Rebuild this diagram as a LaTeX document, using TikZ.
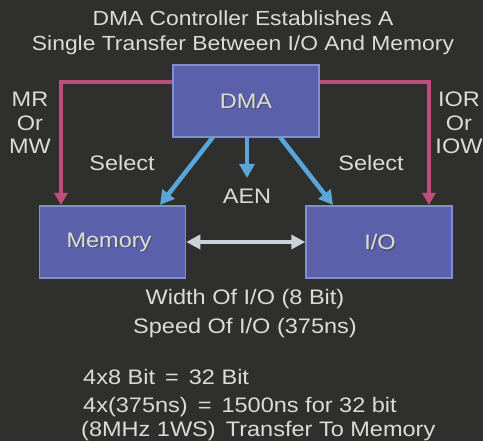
\documentclass[tikz,border=0pt]{standalone}
\usepackage{fontspec}
\setmainfont{Liberation Sans}[FakeStretch=1.12]
\usetikzlibrary{arrows.meta}
\definecolor{bg}{HTML}{2F2F2D}
\definecolor{boxfill}{HTML}{5A60AA}
\definecolor{boxedge}{HTML}{8090CC}
\definecolor{txt}{HTML}{DCDCD6}
\definecolor{mag}{HTML}{BE4E7C}
\definecolor{sky}{HTML}{58A6DA}
\definecolor{pale}{HTML}{CCD2DA}
\tikzset{
  blk/.style={draw=boxedge, line width=1.5pt, fill=boxfill, minimum width=146pt, minimum height=72pt, inner sep=0pt},
  lbl/.style={text=txt, inner sep=0pt, font=\fontsize{21}{23}\selectfont},
  ttl/.style={text=txt, inner sep=0pt, font=\fontsize{20.4}{25}\selectfont, align=center},
  magline/.style={draw=mag, line width=4pt, -{Triangle[length=12pt,width=13pt]}},
  skyline/.style={draw=sky, line width=4.5pt, -{Triangle[length=14pt,width=15pt]}},
  paleline/.style={draw=pale, line width=4pt, {Triangle[length=14pt,width=14pt]}-{Triangle[length=14pt,width=14pt]}},
}
\begin{document}
\begin{tikzpicture}[x=1pt,y=-1pt]
\fill[bg] (0,0) rectangle (483,441);
\useasboundingbox (0,0) rectangle (483,441);
% title
\node[ttl] (title) at (243,33) {DMA Controller Establishes A\\Single Transfer Between I/O And Memory};
% boxes
\node[blk] (dma) at (246,101) {};
\node[blk] (mem) at (112.5,242) {};
\node[blk] (io) at (379,242) {};
\node[lbl, text=black!70, opacity=0.6] at (247.5,102.5) {DMA};
\node[lbl] (dmat) at (246,101) {DMA};
\node[lbl, text=black!70, opacity=0.6] at (110.5,243.5) {Memory};
\node[lbl] (memt) at (109,242) {Memory};
\node[lbl, text=black!70, opacity=0.6] at (381.5,243.5) {I/O};
\node[lbl] (iot) at (380,242) {I/O};
% coordinates
\coordinate (ml) at (61,82);
\coordinate (mr) at (429,82);
\coordinate (mlt) at (61,205);
\coordinate (mrt) at (429,205);
\coordinate (s1) at (213,137);
\coordinate (s1t) at (160,205);
\coordinate (s2) at (247,137);
\coordinate (s2t) at (247,178);
\coordinate (s3) at (280,137);
\coordinate (s3t) at (333,205);
% magenta control lines
\draw[magline] (dma.west |- ml) -- (ml) -- (mlt);
\draw[magline] (dma.east |- mr) -- (mr) -- (mrt);
% blue select lines
\draw[skyline] (s1) -- (s1t);
\draw[skyline] (s2) -- (s2t);
\draw[skyline] (s3) -- (s3t);
% data transfer
\draw[paleline] (mem.east) -- (io.west);
% labels
\node[lbl, align=center, font=\fontsize{21}{23.5}\selectfont] (mrl) at (30,123) {MR\\Or\\MW};
\node[lbl, align=center, font=\fontsize{21}{23.5}\selectfont] (iorl) at (459,123) {IOR\\Or\\IOW};
\node[lbl] (sel1) at (122,163) {Select};
\node[lbl] (sel2) at (371,163) {Select};
\node[lbl] (aen) at (247,196) {AEN};
\node[lbl, align=center, font=\fontsize{21}{29}\selectfont] (spec) at (245,313.5) {Width Of I/O (8 Bit)\\Speed Of I/O (375ns)};
\node[lbl, anchor=base west] (c1) at (83,385) {4x8 Bit \,=\, 32 Bit};
\node[lbl, anchor=base west] (c2) at (83,413) {4x(375ns) \,=\, 1500ns for 32 bit};
\node[lbl, anchor=base west] (c3) at (81,437) {(8MHz 1WS)\, Transfer To Memory};
\end{tikzpicture}
\end{document}
